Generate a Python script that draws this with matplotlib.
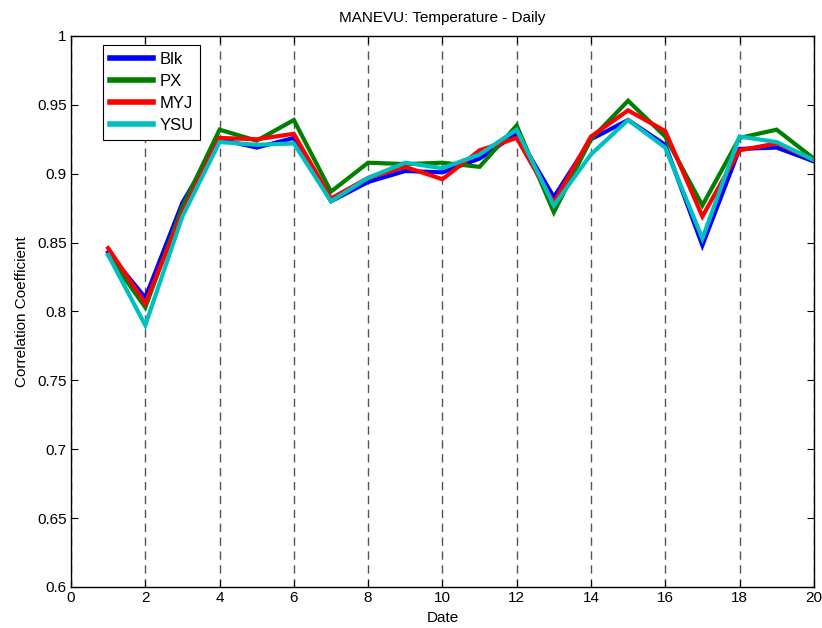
import numpy as np
import matplotlib
matplotlib.use('Agg')
import matplotlib.pyplot as plt

plt.rcParams['font.family'] = ['Liberation Sans', 'DejaVu Sans']

days = np.arange(1, 21)
blk = [0.843, 0.810, 0.879, 0.925, 0.919, 0.926, 0.880, 0.894, 0.902, 0.901,
       0.911, 0.929, 0.883, 0.925, 0.939, 0.921, 0.848, 0.918, 0.919, 0.909]
px = [0.841, 0.803, 0.876, 0.932, 0.924, 0.939, 0.887, 0.908, 0.907, 0.908,
      0.905, 0.935, 0.872, 0.925, 0.953, 0.927, 0.877, 0.926, 0.932, 0.911]
myj = [0.846, 0.806, 0.872, 0.926, 0.925, 0.929, 0.882, 0.897, 0.905, 0.896,
       0.917, 0.926, 0.879, 0.927, 0.946, 0.931, 0.869, 0.917, 0.922, 0.910]
ysu = [0.841, 0.790, 0.869, 0.923, 0.921, 0.922, 0.880, 0.897, 0.908, 0.904,
       0.914, 0.932, 0.877, 0.914, 0.939, 0.919, 0.853, 0.927, 0.923, 0.910]

series = [('Blk', blk, '#0000ff'), ('PX', px, '#007f00'),
          ('MYJ', myj, '#ff0000'), ('YSU', ysu, '#00bfbf')]

fig = plt.figure(figsize=(8.22, 6.28), dpi=100)
ax = fig.add_axes([0.0864, 0.0653, 0.9036, 0.8774])

for name, vals, col in series:
    ax.plot(days, vals, color=col, lw=3, label=name, solid_joinstyle='miter')

ax.set_xlim(0, 20)
ax.set_ylim(0.6, 1)
ax.set_xticks(np.arange(0, 21, 2))
ax.set_yticks(np.arange(0.6, 1.001, 0.05))
ax.set_yticklabels(['0.6', '0.65', '0.7', '0.75', '0.8', '0.85', '0.9', '0.95', '1'])
ax.xaxis.grid(True, linestyle=(0, (6, 4)), color='#555555', lw=1.0)
ax.tick_params(direction='in', labelsize=11, length=5, top=True, right=True, pad=3)
for s in ax.spines.values():
    s.set_linewidth(1.0)

ax.set_xlabel('Date', fontsize=11, labelpad=4)
ax.set_ylabel('Correlation Coefficient', fontsize=11, labelpad=6)
ax.set_title('MANEVU: Temperature - Daily', fontsize=11, pad=10)

leg = ax.legend(loc='upper left', bbox_to_anchor=(0.043, 0.983), fontsize=12,
                fancybox=False, edgecolor='black', framealpha=1,
                handlelength=2.6, handletextpad=0.4, labelspacing=0.42,
                borderpad=0.4, borderaxespad=0)
leg.get_frame().set_linewidth(0.8)
for h in leg.get_lines():
    h.set_linewidth(4)

fig.savefig('out.png', dpi=100)
